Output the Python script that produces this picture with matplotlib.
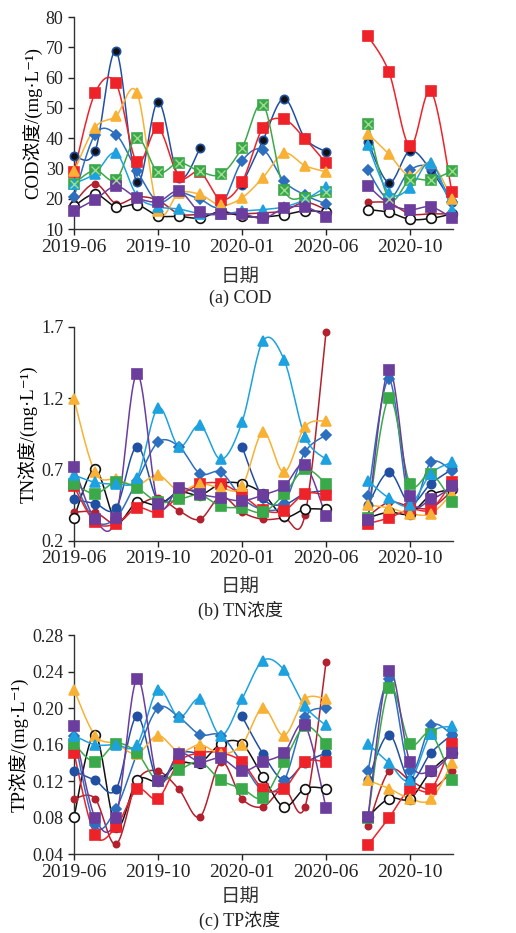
import numpy as np
import matplotlib
matplotlib.use('Agg')
import matplotlib.pyplot as plt

nan = np.nan

# index positions: 0..12 = 2019-06 .. 2020-06, 14..18 = 2020-08 .. 2020-12 (13 = no sampling)
idx = np.arange(19)
tick_pos = [0, 4, 8, 12, 16]
tick_lab = ['2019-06', '2019-10', '2020-01', '2020-06', '2020-10']

# ---- COD (mg/L)
cod_darkred = [18.6, 25.0, 18.4, 20.6, 19.5, 15.0, 14.8, 14.8, 15.0, 15.3, 16.0, 18.8, 16.4, nan, 18.8, 18.6, 15.0, 15.0, 15.0]
cod_black = [17.5, 21.5, 17.3, 18.0, 14.4, 14.2, 13.6, 15.8, 14.2, 14.0, 14.7, 16.0, 15.6, nan, 16.4, 15.5, 13.2, 13.5, 15.0]
cod_navy = [34.2, 35.6, 68.7, 25.4, 52.0, 27.0, 36.6, nan, 24.5, 39.3, 53.0, 40.0, 35.5, nan, 38.8, 25.3, 35.8, 29.4, 18.8]
cod_diamond = [20.6, 41.2, 41.2, 29.2, 19.0, 22.0, 19.8, 17.8, 32.4, 36.2, 25.8, 21.2, 18.3, nan, 29.4, 20.0, 29.4, 30.0, 19.0]
cod_red = [28.8, 54.9, 58.1, 32.0, 43.3, 27.2, 28.8, 19.7, 25.5, 43.5, 46.2, 39.8, 31.8, nan, 73.7, 61.8, 37.3, 55.5, 22.2]
cod_orange = [29.0, 43.5, 47.3, 55.0, 16.0, 21.9, 21.4, 17.8, 20.3, 27.0, 35.0, 30.9, 28.9, nan, 41.5, 34.7, 27.5, 31.8, 20.0]
cod_green = [25.0, 29.4, 26.3, 40.1, 28.8, 31.9, 29.0, 28.1, 36.8, 51.1, 23.0, 20.4, 22.1, nan, 44.8, 20.0, 26.2, 26.2, 29.2]
cod_cyan = [25.0, 28.3, 35.0, 21.0, 17.4, 16.6, 15.1, 14.8, 15.9, 16.4, 17.3, 19.7, 23.9, nan, 37.6, 21.9, 23.5, 31.9, 16.2]
cod_purple = [16.0, 19.7, 24.1, 20.3, 19.0, 22.5, 15.6, 15.0, 15.1, 13.5, 16.8, 17.3, 14.1, nan, 24.3, 18.3, 16.4, 17.3, 13.6]

# ---- TN (mg/L)
tn_darkred = [0.40, 0.40, 0.32, 0.44, 0.50, 0.41, 0.35, 0.51, 0.40, 0.35, 0.36, 0.38, 1.66, nan, 0.37, 0.47, 0.44, 0.43, 0.55]
tn_black = [0.36, 0.70, 0.34, 0.47, 0.45, 0.54, 0.52, 0.60, 0.60, 0.53, 0.37, 0.42, 0.42, nan, 0.36, 0.40, 0.39, 0.52, 0.56]
tn_navy = [0.49, 0.46, 0.43, 0.86, 0.48, 0.55, 0.55, nan, 0.86, 0.50, 0.455, 0.53, 0.55, nan, 0.45, 0.68, 0.46, 0.60, 0.70]
tn_diamond = [0.62, 0.34, 0.36, 0.62, 0.89, 0.86, 0.67, 0.68, 0.50, 0.42, 0.46, 0.82, 0.94, nan, 0.51, 1.33, 0.46, 0.75, 0.69]
tn_red = [0.58, 0.33, 0.32, 0.43, 0.40, 0.51, 0.595, 0.60, 0.52, 0.415, 0.41, 0.53, 0.52, nan, 0.32, 0.36, 0.42, 0.42, 0.61]
tn_orange = [1.19, 0.68, 0.63, 0.59, 0.66, 0.55, 0.60, 0.57, 0.58, 0.96, 0.68, 1.00, 1.04, nan, 0.45, 0.43, 0.39, 0.39, 0.53]
tn_green = [0.60, 0.53, 0.61, 0.57, 0.47, 0.49, 0.52, 0.44, 0.43, 0.40, 0.525, 0.70, 0.60, nan, 0.36, 1.20, 0.60, 0.67, 0.47]
tn_cyan = [0.66, 0.61, 0.60, 0.64, 1.13, 0.86, 1.01, 0.77, 1.03, 1.60, 1.47, 0.93, 0.77, nan, 0.62, 0.50, 0.45, 0.67, 0.75]
tn_purple = [0.72, 0.35, 0.36, 1.37, 0.46, 0.57, 0.525, 0.50, 0.48, 0.52, 0.58, 0.73, 0.37, nan, 0.345, 1.40, 0.51, 0.49, 0.58]

# ---- TP (mg/L)
tp_darkred = [0.101, 0.101, 0.051, 0.120, 0.131, 0.111, 0.081, 0.141, 0.101, 0.092, 0.112, 0.092, 0.250, nan, 0.071, 0.131, 0.121, 0.111, 0.131]
tp_black = [0.081, 0.171, 0.070, 0.121, 0.120, 0.140, 0.140, 0.161, 0.161, 0.125, 0.092, 0.112, 0.112, nan, 0.081, 0.101, 0.101, 0.131, 0.151]
tp_navy = [0.131, 0.121, 0.111, 0.191, 0.120, 0.150, 0.150, nan, 0.191, 0.150, 0.121, 0.140, 0.151, nan, 0.121, 0.171, 0.121, 0.151, 0.171]
tp_diamond = [0.170, 0.072, 0.090, 0.150, 0.200, 0.190, 0.171, 0.170, 0.140, 0.110, 0.120, 0.190, 0.200, nan, 0.131, 0.232, 0.131, 0.181, 0.171]
tp_red = [0.151, 0.061, 0.070, 0.111, 0.101, 0.141, 0.151, 0.151, 0.141, 0.112, 0.112, 0.141, 0.141, nan, 0.050, 0.080, 0.111, 0.111, 0.161]
tp_orange = [0.220, 0.170, 0.161, 0.150, 0.170, 0.152, 0.160, 0.150, 0.160, 0.200, 0.170, 0.210, 0.210, nan, 0.121, 0.112, 0.101, 0.100, 0.140]
tp_green = [0.161, 0.141, 0.161, 0.151, 0.120, 0.132, 0.141, 0.121, 0.112, 0.102, 0.141, 0.180, 0.161, nan, 0.080, 0.222, 0.161, 0.172, 0.121]
tp_cyan = [0.170, 0.160, 0.160, 0.160, 0.220, 0.190, 0.210, 0.170, 0.210, 0.252, 0.242, 0.202, 0.181, nan, 0.161, 0.140, 0.121, 0.172, 0.180]
tp_purple = [0.180, 0.080, 0.080, 0.232, 0.120, 0.150, 0.141, 0.145, 0.131, 0.141, 0.151, 0.181, 0.091, nan, 0.081, 0.241, 0.141, 0.131, 0.151]

# series styles: (color, marker, markersize, facecolor)
styles = {
    'darkred': ('#b3202e', 'o', 4.5, None),
    'black':   ('#111111', 'o', 7.0, 'white'),
    'navy':    ('#2150a3', 'o', 6.0, None),
    'diamond': ('#2d6fbe', 'D', 5.5, None),
    'red':     ('#ee2229', 's', 7.0, None),
    'orange':  ('#f8b134', '^', 7.5, None),
    'green':   ('#3aa94a', 's', 7.0, None),
    'cyan':    ('#1ea2df', '^', 7.5, None),
    'purple':  ('#6b3d9c', 's', 7.5, None),
}
order = ['darkred', 'black', 'navy', 'diamond', 'red', 'orange', 'green', 'cyan', 'purple']

plt.rcParams['font.family'] = ['Liberation Serif', 'DejaVu Serif', 'Noto Sans CJK SC']


def smooth(x, y, n=20):
    # catmull-rom curve through the points (same as a smoothed line in a spreadsheet)
    x = np.asarray(x, float)
    y = np.asarray(y, float)
    if len(x) < 3:
        return x, y
    px = np.concatenate([[x[0]], x, [x[-1]]])
    py = np.concatenate([[y[0]], y, [y[-1]]])
    t = np.linspace(0, 1, n, endpoint=False)
    xs, ys = [], []
    for i in range(len(x) - 1):
        for p, out in ((px, xs), (py, ys)):
            p0, p1, p2, p3 = p[i], p[i + 1], p[i + 2], p[i + 3]
            out.append(0.5 * (2 * p1 + (-p0 + p2) * t + (2 * p0 - 5 * p1 + 4 * p2 - p3) * t ** 2
                              + (-p0 + 3 * p1 - 3 * p2 + p3) * t ** 3))
    xs.append([x[-1]])
    ys.append([y[-1]])
    return np.concatenate(xs), np.concatenate(ys)


def draw_series(ax, y, name, navy_dark=False, green_x=False):
    color, marker, ms, fc = styles[name]
    y = np.asarray(y, float)
    ok = ~np.isnan(y)
    # split into continuous runs
    runs = []
    cur = []
    for i in idx:
        if ok[i]:
            cur.append(i)
        elif cur:
            runs.append(cur)
            cur = []
    if cur:
        runs.append(cur)
    for r in runs:
        sx, sy = smooth(idx[r], y[r])
        ax.plot(sx, sy, '-', color=color, lw=1.1, clip_on=False, zorder=2)
    face = fc if fc is not None else color
    if navy_dark and name == 'navy':
        face = '#111111'
    ax.plot(idx[ok], y[ok], linestyle='none', marker=marker, ms=ms, mfc=face, mec=color,
            mew=1.2, clip_on=False, zorder=3)
    if green_x and name == 'green':
        ax.plot(idx[ok], y[ok], linestyle='none', marker='x', ms=5.5, mec='#9fdc8f',
                mew=1.0, clip_on=False, zorder=4)


def setup(ax, ylim, yticks, ylabels, ylabel):
    ax.set_xlim(0, 18.05)
    ax.set_ylim(*ylim)
    ax.set_xticks(tick_pos)
    ax.set_xticklabels(tick_lab)
    ax.set_yticks(yticks)
    ax.set_yticklabels(ylabels)
    for s in ['top', 'right']:
        ax.spines[s].set_visible(False)
    for s in ['left', 'bottom']:
        ax.spines[s].set_color('#333333')
        ax.spines[s].set_linewidth(1.0)
    ax.tick_params(axis='both', colors='#222222', direction='out', length=4, width=1)
    ax.tick_params(axis='y', labelsize=13)
    ax.tick_params(axis='x', labelsize=14, pad=3)
    ax.set_ylabel(ylabel, fontsize=13.5, labelpad=2)


fig = plt.figure(figsize=(5.16, 9.33), dpi=100)
left = 74 / 516
width = (453 - 74) / 516

ax1 = fig.add_axes([left, 1 - 229 / 933, width, 212 / 933])
ax2 = fig.add_axes([left, 1 - 540.7 / 933, width, 214 / 933])
ax3 = fig.add_axes([left, 1 - 854.3 / 933, width, 219.3 / 933])

cod = dict(darkred=cod_darkred, black=cod_black, navy=cod_navy, diamond=cod_diamond, red=cod_red,
           orange=cod_orange, green=cod_green, cyan=cod_cyan, purple=cod_purple)
tn = dict(darkred=tn_darkred, black=tn_black, navy=tn_navy, diamond=tn_diamond, red=tn_red,
          orange=tn_orange, green=tn_green, cyan=tn_cyan, purple=tn_purple)
tp = dict(darkred=tp_darkred, black=tp_black, navy=tp_navy, diamond=tp_diamond, red=tp_red,
          orange=tp_orange, green=tp_green, cyan=tp_cyan, purple=tp_purple)

for name in order:
    draw_series(ax1, cod[name], name, navy_dark=True, green_x=True)
    draw_series(ax2, tn[name], name)
    draw_series(ax3, tp[name], name)

setup(ax1, (10, 80), [10, 20, 30, 40, 50, 60, 70, 80], ['10', '20', '30', '40', '50', '60', '70', '80'],
      'COD浓度/(mg·L⁻¹)')
setup(ax2, (0.2, 1.7), [0.2, 0.7, 1.2, 1.7], ['0.2', '0.7', '1.2', '1.7'],
      'TN浓度/(mg·L⁻¹)')
setup(ax3, (0.04, 0.28), [0.04, 0.08, 0.12, 0.16, 0.20, 0.24, 0.28],
      ['0.04', '0.08', '0.12', '0.16', '0.20', '0.24', '0.28'], 'TP浓度/(mg·L⁻¹)')

cx = 240 / 516
fig.text(cx, 1 - 277 / 933, '日期', ha='center', va='center', fontsize=14, color='#333333')
fig.text(cx, 1 - 298 / 933, '(a) COD', ha='center', va='center', fontsize=13, color='#222222')
fig.text(cx, 1 - 587 / 933, '日期', ha='center', va='center', fontsize=14, color='#333333')
fig.text(cx, 1 - 610 / 933, '(b) TN浓度', ha='center', va='center', fontsize=13, color='#222222')
fig.text(cx, 1 - 897 / 933, '日期', ha='center', va='center', fontsize=14, color='#333333')
fig.text(cx, 1 - 920 / 933, '(c) TP浓度', ha='center', va='center', fontsize=13, color='#222222')

fig.savefig('out.png', dpi=100, facecolor='white')
